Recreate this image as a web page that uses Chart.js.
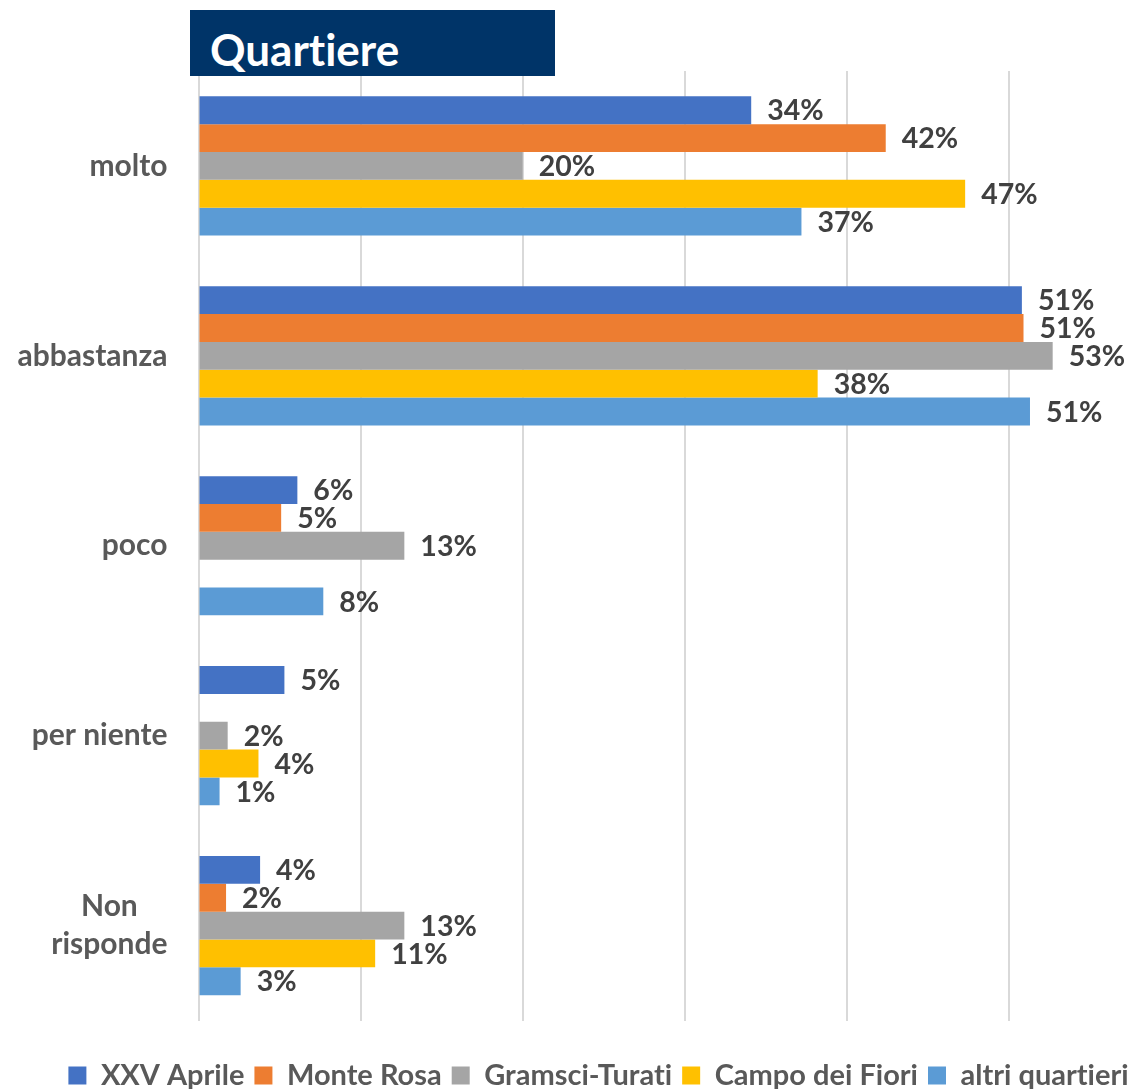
<!DOCTYPE html>
<html>
<head>
<meta charset="utf-8">
<script src="https://cdn.jsdelivr.net/npm/chart.js@4/dist/chart.umd.min.js"></script>
<style>
  html, body { margin: 0; padding: 0; background: #ffffff; overflow: hidden; width: 1135px; height: 1089px; }
  #wrap { position: relative; width: 1200px; height: 1100px; }
  #title {
    position: absolute; left: 190px; top: 10px; width: 365px; height: 66px;
    background: #003468; color: #ffffff; box-sizing: border-box;
    font-family: Lato, "Open Sans", sans-serif; font-weight: bold; font-size: 44px;
    padding-left: 20px; padding-top: 12px; line-height: 54px;
    font-variant-ligatures: none;
  }
</style>
</head>
<body>
<div id="wrap">
  <canvas id="c" width="1200" height="1100"></canvas>
  <div id="title">Quartiere</div>
</div>
<script>
const categories = [["molto"], ["abbastanza"], ["poco"], ["per niente"], ["Non", "risponde"]];
const seriesNames = ["XXV Aprile", "Monte Rosa", "Gramsci-Turati", "Campo dei Fiori", "altri quartieri"];
const xxvAprile     = [34.1, 50.8, 6.1, 5.3, 3.8];
const monteRosa     = [42.4, 50.9, 5.1, null, 1.7];
const gramsciTurati = [20.0, 52.7, 12.7, 1.8, 12.7];
const campoDeiFiori = [47.3, 38.2, null, 3.7, 10.9];
const altriQuartieri = [37.2, 51.3, 7.7, 1.3, 2.6];
const seriesColors = ["#4472C4", "#ED7D31", "#A5A5A5", "#FFC000", "#5B9BD5"];
const xTicks = [0, 10, 20, 30, 40, 50, 60];

const FONT = "Lato, 'Open Sans', sans-serif";
const seriesValues = [xxvAprile, monteRosa, gramsciTurati, campoDeiFiori, altriQuartieri];

const noLigPlugin = {
  id: 'noLig',
  beforeDraw(chart) {
    try { chart.ctx.textRendering = 'optimizeSpeed'; } catch (e) {}
  }
};

const labelPlugin = {
  id: 'valueLabels',
  afterDatasetsDraw(chart) {
    const ctx = chart.ctx;
    ctx.save();
    try { ctx.textRendering = 'optimizeSpeed'; } catch (e) {}
    ctx.font = "bold 28.5px " + FONT;
    ctx.fillStyle = "#404040";
    ctx.textAlign = "left";
    ctx.textBaseline = "middle";
    chart.data.datasets.forEach((ds, i) => {
      const meta = chart.getDatasetMeta(i);
      meta.data.forEach((bar, j) => {
        const v = ds.data[j];
        if (v === null || v === undefined) return;
        ctx.fillText(Math.round(v) + "%", bar.x + 16, bar.y + 1);
      });
    });
    ctx.restore();
  }
};

const catPlugin = {
  id: 'catLabels',
  afterDraw(chart) {
    const ctx = chart.ctx;
    const ys = chart.scales.y;
    const right = chart.chartArea.left - 31;
    ctx.save();
    try { ctx.textRendering = 'optimizeSpeed'; } catch (e) {}
    ctx.font = "bold 30px " + FONT;
    ctx.fillStyle = "#595959";
    ctx.textBaseline = "middle";
    const lh = 38;
    categories.forEach((lines, i) => {
      const cy = ys.getPixelForValue(i);
      const maxW = Math.max(...lines.map(l => ctx.measureText(l).width));
      const cx = right - maxW / 2;
      ctx.textAlign = "center";
      lines.forEach((l, k) => {
        const y = cy + (k - (lines.length - 1) / 2) * lh;
        ctx.fillText(l, cx, y);
      });
    });
    ctx.restore();
  }
};

new Chart(document.getElementById('c'), {
  type: 'bar',
  data: {
    labels: categories.map(c => c.join(" ")),
    datasets: seriesNames.map((n, i) => ({
      label: n,
      data: seriesValues[i],
      backgroundColor: seriesColors[i],
      borderWidth: 0,
      barPercentage: 1.0,
      categoryPercentage: 0.733
    }))
  },
  options: {
    indexAxis: 'y',
    responsive: false,
    devicePixelRatio: 1,
    animation: false,
    layout: { padding: { top: 71, right: 29, left: 27, bottom: 0 } },
    scales: {
      x: {
        min: 0, max: 60,
        afterBuildTicks(scale) { scale.ticks = xTicks.map(v => ({ value: v })); },
        afterFit(scale) { scale.height = 30.5; },
        ticks: { display: false },
        grid: { color: "#d9d9d9", lineWidth: 2, drawTicks: false },
        border: { display: false }
      },
      y: {
        afterFit(scale) { scale.width = 171.5; },
        ticks: { display: false },
        grid: { display: false, drawTicks: false },
        border: { display: false }
      }
    },
    plugins: {
      legend: {
        position: 'bottom',
        align: 'center',
        labels: {
          boxWidth: 18, boxHeight: 18, padding: 10,
          color: "#595959",
          font: { family: FONT, size: 29, weight: 'bold' }
        }
      },
      tooltip: { enabled: false },
      title: { display: false }
    }
  },
  plugins: [noLigPlugin, labelPlugin, catPlugin]
});
</script>
</body>
</html>
